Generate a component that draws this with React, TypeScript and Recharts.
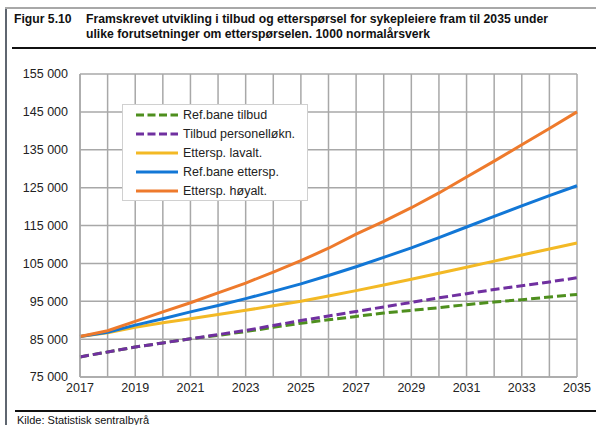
import React from "react"
import {
  LineChart,
  Line,
  XAxis,
  YAxis,
  CartesianGrid,
  Legend,
} from "recharts"

const years = [2017, 2018, 2019, 2020, 2021, 2022, 2023, 2024, 2025, 2026, 2027, 2028, 2029, 2030, 2031, 2032, 2033, 2034, 2035]

const refTilbud = [80300, 81600, 82900, 84000, 85100, 86000, 87000, 88100, 89200, 90100, 91000, 91900, 92600, 93300, 94100, 94800, 95400, 96100, 96800]
const tilbudPersonell = [80300, 81600, 82900, 84000, 85100, 86200, 87300, 88600, 89900, 91100, 92300, 93500, 94700, 95900, 97000, 98100, 99100, 100100, 101200]
const etterspLav = [85700, 86700, 88100, 89300, 90400, 91500, 92600, 93800, 95000, 96400, 97800, 99300, 100800, 102400, 104000, 105600, 107200, 108800, 110400]
const refEttersp = [85700, 86800, 88700, 90400, 92200, 93900, 95700, 97600, 99600, 101800, 104100, 106600, 109100, 111800, 114600, 117400, 120200, 122900, 125500]
const etterspHoy = [85700, 87200, 89700, 92200, 94600, 97200, 99800, 102700, 105700, 109000, 112700, 116100, 119700, 123600, 127800, 132000, 136300, 140600, 145000]

const yTicks = [75000, 85000, 95000, 105000, 115000, 125000, 135000, 145000, 155000]

const series = [
  { key: "refTilbud", label: "Ref.bane tilbud", color: "#4e8f1e", dashed: true },
  { key: "tilbudPersonell", label: "Tilbud personelløkn.", color: "#7030a0", dashed: true },
  { key: "etterspLav", label: "Ettersp. lavalt.", color: "#f3b925", dashed: false },
  { key: "refEttersp", label: "Ref.bane ettersp.", color: "#1277d6", dashed: false },
  { key: "etterspHoy", label: "Ettersp. høyalt.", color: "#ee7a2c", dashed: false },
]

const data = years.map((year, i) => ({
  year,
  refTilbud: refTilbud[i],
  tilbudPersonell: tilbudPersonell[i],
  etterspLav: etterspLav[i],
  refEttersp: refEttersp[i],
  etterspHoy: etterspHoy[i],
}))

const FONT = '"Liberation Sans", Arial, sans-serif'
const TEXT = "#222"
const GRID = "#a8a8a8"

const fmtThousands = (v: number) => String(v).replace(/\B(?=(\d{3})+(?!\d))/g, " ")

function LegendBox() {
  return (
    <div
      style={{
        boxSizing: "border-box",
        width: 186,
        height: 97,
        border: "1.5px solid #d0d0d0",
        background: "#fff",
        paddingLeft: 12,
        fontFamily: FONT,
        fontSize: 12.5,
        color: TEXT,
        textAlign: "left",
      }}
    >
      {series.map((s) => (
        <div key={s.key} style={{ display: "flex", alignItems: "center", height: 19.2 }}>
          <svg width={44} height={6} style={{ marginRight: 4 }}>
            <line
              x1={1}
              y1={3}
              x2={43}
              y2={3}
              stroke={s.color}
              strokeWidth={3}
              strokeDasharray={s.dashed ? "8 3.5" : undefined}
            />
          </svg>
          <span>{s.label}</span>
        </div>
      ))}
    </div>
  )
}

export default function App() {
  return (
    <div
      style={{
        position: "absolute",
        left: 0,
        top: 0,
        width: 596,
        height: 425,
        background: "#fff",
        fontFamily: FONT,
        overflow: "hidden",
      }}
    >
      {/* frame */}
      <div style={{ position: "absolute", left: 5, top: 7, width: 2, height: 420, background: "#5f6670" }} />
      <div style={{ position: "absolute", left: 5, top: 7, width: 600, height: 1.5, background: "#a8a8a8" }} />

      {/* title */}
      <div style={{ position: "absolute", left: 14, top: 12, fontSize: 12.2, fontWeight: "bold", color: "#111" }}>
        Figur 5.10
      </div>
      <div
        style={{
          position: "absolute",
          left: 86,
          top: 12,
          width: 508,
          fontSize: 12.2,
          lineHeight: "14.5px",
          fontWeight: "bold",
          color: "#111",
        }}
      >
        Framskrevet utvikling i tilbud og etterspørsel for sykepleiere fram til 2035 under
        <br />
        ulike forutsetninger om etterspørselen. 1000 normalårsverk
      </div>
      <div style={{ position: "absolute", left: 12, top: 46.5, width: 600, height: 2, background: "#111" }} />

      <div style={{ position: "absolute", left: 0, top: 0 }}>
        <LineChart width={596} height={425} data={data} margin={{ top: 74, right: 19, bottom: 18, left: 0 }}>
          <CartesianGrid stroke={GRID} strokeWidth={1.5} />
          <XAxis
            dataKey="year"
            type="number"
            domain={[2017, 2035]}
            ticks={years}
            interval={0}
            height={30}
            tickFormatter={(v: number) => (v % 2 === 1 ? String(v) : "")}
            tick={{ fontSize: 12.5, fill: TEXT, fontFamily: FONT }}
            axisLine={{ stroke: GRID, strokeWidth: 1.5 }}
            tickLine={false}
            tickSize={5}
            tickMargin={1}
          />
          <YAxis
            type="number"
            domain={[75000, 155000]}
            ticks={yTicks}
            interval={0}
            width={80}
            tickFormatter={fmtThousands}
            tick={{ fontSize: 12.5, fill: TEXT, fontFamily: FONT }}
            axisLine={{ stroke: GRID, strokeWidth: 1.5 }}
            tickLine={false}
            tickSize={6}
            tickMargin={6}
          />
          <Legend
            layout="vertical"
            verticalAlign="middle"
            align="center"
            wrapperStyle={{ left: 122, top: 104, width: 186, height: 97 }}
            content={() => <LegendBox />}
          />
          {series.map((s) => (
            <Line
              key={s.key}
              type="linear"
              dataKey={s.key}
              name={s.label}
              stroke={s.color}
              strokeWidth={3}
              strokeDasharray={s.dashed ? "9 4" : undefined}
              dot={false}
              activeDot={false}
              isAnimationActive={false}
            />
          ))}
        </LineChart>
      </div>

      {/* source */}
      <div style={{ position: "absolute", left: 15, top: 409.5, width: 600, height: 2, background: "#111" }} />
      <div style={{ position: "absolute", left: 17, top: 414, fontSize: 11, color: "#111" }}>
        Kilde: Statistisk sentralbyrå
      </div>
    </div>
  )
}
